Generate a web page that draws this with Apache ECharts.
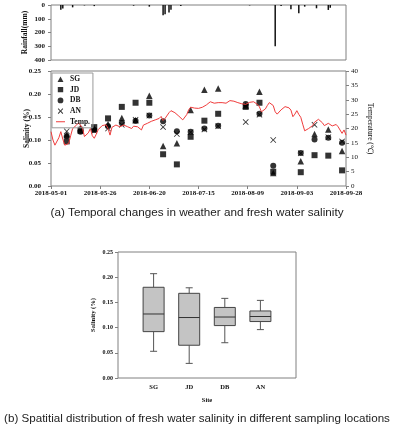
<!DOCTYPE html>
<html>
<head>
<meta charset="utf-8">
<script src="https://cdn.jsdelivr.net/npm/echarts@6/dist/echarts.min.js"></script>
<style>
  html, body { margin: 0; padding: 0; background: #fff; }
  #chart { width: 394px; height: 425px; }
</style>
</head>
<body>
<div id="chart"></div>
<script>
// ---- data ----
const startDate = "2018-05-01";
const dateLabels = ["2018-05-01", "2018-05-26", "2018-06-20", "2018-07-15", "2018-08-09", "2018-09-03", "2018-09-28"];

const rainDates = ["2018-05-06", "2018-05-07", "2018-05-12", "2018-05-18", "2018-05-23", "2018-06-12", "2018-06-20",
  "2018-06-27", "2018-06-28", "2018-06-30", "2018-07-01", "2018-07-06", "2018-08-10", "2018-08-23", "2018-08-26",
  "2018-08-31", "2018-09-04", "2018-09-07", "2018-09-13", "2018-09-19", "2018-09-20"];
const rainMm = [35, 25, 17, 3, 8, 5, 12, 75, 68, 55, 35, 8, 3, 300, 8, 30, 60, 12, 24, 36, 20];

const sampleDates = ["2018-05-09", "2018-05-16", "2018-05-23", "2018-05-30", "2018-06-06", "2018-06-13", "2018-06-20",
  "2018-06-27", "2018-07-04", "2018-07-11", "2018-07-18", "2018-07-25", "2018-08-08", "2018-08-15", "2018-08-22",
  "2018-09-05", "2018-09-12", "2018-09-19", "2018-09-26"];
const salSG = [0.112, 0.127, 0.125, 0.135, 0.148, 0.143, 0.196, 0.087, 0.093, 0.165, 0.209, 0.212, 0.175, 0.205, 0.028, 0.054, 0.113, 0.123, 0.076];
const salJD = [0.097, 0.120, 0.128, 0.147, 0.172, 0.181, 0.181, 0.069, 0.047, 0.107, 0.142, 0.157, 0.172, 0.181, 0.031, 0.030, 0.067, 0.066, 0.034];
const salDB = [0.108, 0.118, 0.122, 0.130, 0.137, 0.142, 0.153, 0.141, 0.119, 0.118, 0.125, 0.131, 0.178, 0.157, 0.044, 0.072, 0.101, 0.105, 0.094];
const salAN = [0.119, 0.123, 0.120, 0.125, 0.133, 0.144, 0.153, 0.128, 0.113, 0.117, 0.123, 0.130, 0.139, 0.155, 0.100, 0.071, 0.133, 0.106, 0.097];

// daily mean temperature from 2018-05-01
const tempDaily = [
  18.9, 16.0, 14.2, 14.5, 16.8, 18.9, 16.3, 14.2, 13.6, 14.8,
  17.5, 20.0, 20.6, 21.2, 22.0, 22.4, 20.2, 17.2, 16.8, 18.5,
  20.0, 17.5, 16.6, 18.0, 19.6, 20.0, 21.0, 21.6, 21.3, 20.0,
  17.7, 20.4, 21.0, 21.2, 20.8, 20.6, 21.0, 21.2, 20.9, 20.6,
  20.4, 20.0, 20.8, 21.2, 20.6, 20.2, 19.5, 21.2, 21.5, 21.8,
  21.8, 22.5, 23.0, 23.0, 22.4, 23.5, 24.2, 22.8, 23.5, 24.0,
  25.5, 26.2, 26.4, 25.5, 25.0, 24.3, 24.5, 23.0, 22.6, 24.8,
  26.5, 27.4, 27.0, 27.1, 26.8, 27.0, 27.2, 27.4, 27.8, 28.2,
  28.8, 29.3, 29.0, 28.8, 28.8, 29.0, 29.0, 29.0, 28.6, 28.8,
  29.2, 29.7, 29.9, 29.5, 29.2, 29.0, 28.8, 28.6, 28.5, 28.4,
  29.0, 29.1, 29.2, 29.3, 28.8, 28.4, 27.5, 25.8, 26.2, 26.8,
  28.0, 29.0, 29.3, 28.0, 25.8, 25.0, 24.7, 26.5, 27.0, 27.6,
  27.8, 27.2, 26.4, 24.1, 25.0, 26.2, 24.9, 23.9, 21.5, 19.2,
  19.6, 20.0, 20.4, 21.0, 22.2, 22.8, 23.2, 22.8, 22.0, 21.0,
  21.2, 21.8, 21.2, 20.9, 21.5, 21.4, 20.6, 20.0, 18.3, 19.5,
  17.7
];

const sites = ["SG", "JD", "DB", "AN"];
// min, Q1, median, Q3, max
const boxStats = [
  [0.053, 0.092, 0.127, 0.180, 0.207],
  [0.029, 0.065, 0.120, 0.168, 0.179],
  [0.070, 0.104, 0.121, 0.140, 0.158],
  [0.096, 0.112, 0.122, 0.133, 0.154]
];

// ---- helpers ----
function dayOf(d) {
  return (Date.parse(d + "T00:00:00Z") - Date.parse(startDate + "T00:00:00Z")) / 86400000;
}
function pairs(dates, vals) {
  return dates.map((d, i) => [dayOf(d), vals[i]]);
}

const serif = "Liberation Serif";
const frame = "#808080";
const lbl = { fontFamily: serif, fontWeight: "bold", fontSize: 7, color: "#111" };
const nameStyle = { fontFamily: serif, fontWeight: "bold", fontSize: 7.5, color: "#111" };
const crossPath = "path://M0,1L1,0L5,4L9,0L10,1L6,5L10,9L9,10L5,6L1,10L0,9L4,5Z";

// legend icons padded to a 9x6 box so the marks keep their size
const pad = "M0,0L0.01,0ZM9,6L8.99,6Z";
const legendIcons = {
  SG: "path://" + pad + "M1.5,6L4.5,0.4L7.5,6Z",
  JD: "path://" + pad + "M1.8,0.4L7.2,0.4L7.2,5.6L1.8,5.6Z",
  DB: "path://" + pad + "M1.6,3A2.9,2.9 0 1 0 7.4,3A2.9,2.9 0 1 0 1.6,3Z",
  AN: "path://" + pad + "M1.8,0.9L2.5,0.2L4.5,2.3L6.5,0.2L7.2,0.9L5.2,3L7.2,5.1L6.5,5.8L4.5,3.7L2.5,5.8L1.8,5.1L3.8,3Z",
  "Temp.": "path://" + pad + "M0,2.5L9,2.5L9,3.5L0,3.5Z"
};

const chart = echarts.init(document.getElementById("chart"));

const option = {
  animation: false,
  backgroundColor: "#fff",
  title: [
    {
      text: "(a) Temporal changes in weather and fresh water salinity",
      left: "center", top: 207, padding: 0,
      textStyle: { fontFamily: "Liberation Sans", fontWeight: "normal", fontSize: 11.7, color: "#222" }
    },
    {
      text: "(b) Spatitial distribution of fresh water salinity in different sampling locations",
      left: "center", top: 413, padding: 0,
      textStyle: { fontFamily: "Liberation Sans", fontWeight: "normal", fontSize: 11.6, color: "#222" }
    }
  ],
  legend: {
    data: ["SG", "JD", "DB", "AN", "Temp."].map(n => ({
      name: n, icon: legendIcons[n],
      itemStyle: { color: n === "Temp." ? "#f03c3c" : "#000" }
    })),
    orient: "vertical",
    left: 52, top: 73,
    itemWidth: 9, itemHeight: 6, itemGap: 2.7,
    padding: [2, 3, 2, 4],
    borderColor: "#999", borderWidth: 1,
    textStyle: { fontFamily: serif, fontWeight: "bold", fontSize: 7.5, color: "#111" }
  },
  grid: [
    { left: 51, right: 48, top: 5, height: 55, show: true, borderColor: frame, borderWidth: 1 },
    { left: 51, right: 48, top: 71, height: 115, show: true, borderColor: frame, borderWidth: 1 },
    { left: 118, width: 178, top: 252, height: 126, show: true, borderColor: frame, borderWidth: 1 }
  ],
  xAxis: [
    {
      gridIndex: 0, type: "value", min: 0, max: 150, interval: 25,
      axisLine: { show: false }, axisTick: { show: false }, axisLabel: { show: false }, splitLine: { show: false }
    },
    {
      gridIndex: 1, type: "value", min: 0, max: 150, interval: 25,
      axisLine: { show: false }, axisTick: { show: true, length: 3, lineStyle: { color: frame } },
      axisLabel: Object.assign({ margin: 4, formatter: v => dateLabels[Math.round(v / 25)] || "" }, lbl),
      splitLine: { show: false }
    },
    {
      gridIndex: 2, type: "value", min: 0, max: 5, interval: 1,
      name: "Site", nameLocation: "middle", nameGap: 19, nameMoveOverlap: false,
      nameTextStyle: Object.assign({}, nameStyle, { fontSize: 6.5 }),
      axisLine: { show: false }, axisTick: { show: false },
      axisLabel: Object.assign({}, lbl, { fontSize: 6.5, margin: 6, formatter: v => sites[v - 1] || "" }),
      splitLine: { show: false }
    }
  ],
  yAxis: [
    {
      gridIndex: 0, type: "value", min: 0, max: 400, interval: 100, inverse: true,
      name: "Rainfall(mm)", nameLocation: "middle", nameGap: 22, nameMoveOverlap: false, nameTextStyle: nameStyle,
      axisLine: { show: false }, axisTick: { show: true, length: 3, lineStyle: { color: frame } },
      axisLabel: Object.assign({ margin: 6 }, lbl), splitLine: { show: false }
    },
    {
      gridIndex: 1, type: "value", min: 0, max: 0.25, interval: 0.05,
      name: "Salinity (%)", nameLocation: "middle", nameGap: 20, nameMoveOverlap: false, nameTextStyle: nameStyle,
      axisLine: { show: false }, axisTick: { show: true, length: 3, lineStyle: { color: frame } },
      axisLabel: Object.assign({ margin: 10, formatter: v => v.toFixed(2) }, lbl), splitLine: { show: false }
    },
    {
      gridIndex: 1, type: "value", position: "right", min: 0, max: 40, interval: 5,
      name: "Temperature (\u2103)", nameLocation: "middle", nameGap: 20, nameRotate: -90, nameMoveOverlap: false,
      nameTextStyle: Object.assign({}, nameStyle, { fontWeight: "normal" }),
      axisLine: { show: false }, axisTick: { show: true, length: 3, lineStyle: { color: frame } },
      axisLabel: { margin: 5, fontFamily: serif, fontSize: 7, color: "#111" }, splitLine: { show: false }
    },
    {
      gridIndex: 2, type: "value", min: 0, max: 0.25, interval: 0.05,
      name: "Salinity (%)", nameLocation: "middle", nameGap: 21, nameMoveOverlap: false,
      nameTextStyle: Object.assign({}, nameStyle, { fontSize: 6.5 }),
      axisLine: { show: false }, axisTick: { show: true, length: 3, lineStyle: { color: frame } },
      axisLabel: Object.assign({}, lbl, { fontSize: 6, margin: 5, formatter: v => v.toFixed(2) }),
      splitLine: { show: false }
    }
  ],
  series: [
    {
      name: "Rainfall", type: "bar", xAxisIndex: 0, yAxisIndex: 0,
      barWidth: 1.5, itemStyle: { color: "#111" },
      data: pairs(rainDates, rainMm)
    },
    {
      name: "Temp.", type: "line", xAxisIndex: 1, yAxisIndex: 2,
      symbol: "none", lineStyle: { color: "#f03c3c", width: 1 }, itemStyle: { color: "#f03c3c" },
      data: tempDaily.map((t, i) => [i, t])
    },
    {
      name: "SG", type: "scatter", xAxisIndex: 1, yAxisIndex: 1,
      symbol: "triangle", symbolSize: 6.5, itemStyle: { color: "#000" },
      data: pairs(sampleDates, salSG)
    },
    {
      name: "JD", type: "scatter", xAxisIndex: 1, yAxisIndex: 1,
      symbol: "rect", symbolSize: 6, itemStyle: { color: "#000" },
      data: pairs(sampleDates, salJD)
    },
    {
      name: "DB", type: "scatter", xAxisIndex: 1, yAxisIndex: 1,
      symbol: "circle", symbolSize: 6, itemStyle: { color: "#000" },
      data: pairs(sampleDates, salDB)
    },
    {
      name: "AN", type: "scatter", xAxisIndex: 1, yAxisIndex: 1,
      symbol: crossPath, symbolSize: 6, itemStyle: { color: "#000" },
      data: pairs(sampleDates, salAN)
    },
    {
      name: "Site box", type: "custom", xAxisIndex: 2, yAxisIndex: 3,
      encode: { x: 0, y: [1, 2, 3, 4, 5] },
      data: boxStats.map((b, i) => [i + 1].concat(b)),
      renderItem: function (params, api) {
        const x = api.value(0);
        const pMin = api.coord([x, api.value(1)]);
        const pQ1 = api.coord([x, api.value(2)]);
        const pMed = api.coord([x, api.value(3)]);
        const pQ3 = api.coord([x, api.value(4)]);
        const pMax = api.coord([x, api.value(5)]);
        const bw = 21, cw = 7, cx = pMed[0];
        const ls = { stroke: "#555", lineWidth: 1 };
        return {
          type: "group",
          children: [
            { type: "line", shape: { x1: cx, y1: pMax[1], x2: cx, y2: pQ3[1] }, style: ls },
            { type: "line", shape: { x1: cx, y1: pQ1[1], x2: cx, y2: pMin[1] }, style: ls },
            { type: "line", shape: { x1: cx - cw / 2, y1: pMax[1], x2: cx + cw / 2, y2: pMax[1] }, style: ls },
            { type: "line", shape: { x1: cx - cw / 2, y1: pMin[1], x2: cx + cw / 2, y2: pMin[1] }, style: ls },
            { type: "rect", shape: { x: cx - bw / 2, y: pQ3[1], width: bw, height: pQ1[1] - pQ3[1] },
              style: { fill: "#c4c4c4", stroke: "#444", lineWidth: 1 } },
            { type: "line", shape: { x1: cx - bw / 2, y1: pMed[1], x2: cx + bw / 2, y2: pMed[1] }, style: { stroke: "#333", lineWidth: 1 } }
          ]
        };
      }
    }
  ]
};

chart.setOption(option);

window.addEventListener("resize", () => {
  chart.resize();
});
</script>
</body>
</html>
